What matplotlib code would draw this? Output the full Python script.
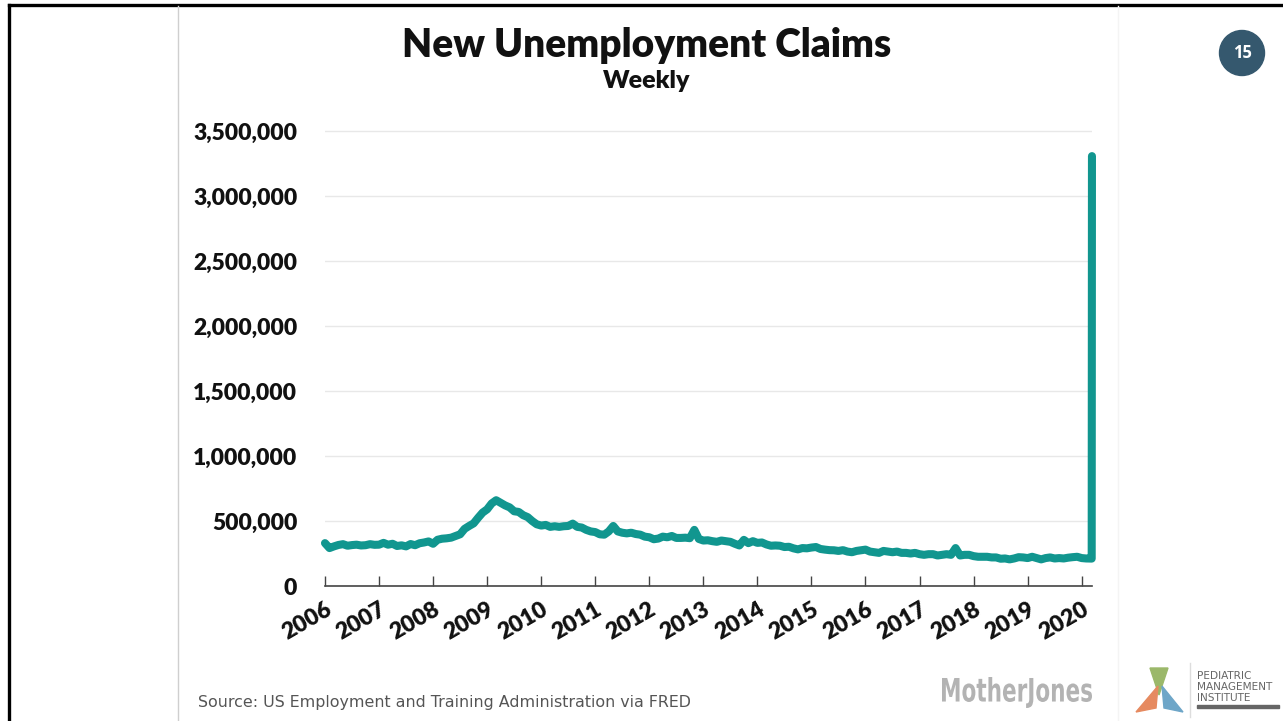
#importing required libraries
import matplotlib.pyplot as plt
import matplotlib.patches as mpatches
from matplotlib.lines import Line2D
from matplotlib.ticker import FuncFormatter
from matplotlib.textpath import TextPath
from matplotlib.font_manager import FontProperties
from matplotlib.transforms import Affine2D, IdentityTransform
import numpy as np

#monthly initial claims (thousands), Jan 2006 .. early Mar 2020
claims_2006 = [330, 292, 305, 316, 322, 310, 315, 318, 312, 314, 322, 317]
claims_2007 = [318, 332, 318, 325, 308, 313, 305, 323, 314, 329, 335, 343]
claims_2008 = [325, 356, 364, 367, 372, 385, 398, 440, 462, 482, 525, 565]
claims_2009 = [590, 635, 660, 640, 620, 605, 575, 570, 545, 530, 500, 475]
claims_2010 = [465, 470, 455, 460, 455, 460, 462, 480, 455, 450, 432, 420]
claims_2011 = [415, 398, 395, 420, 462, 420, 410, 405, 410, 400, 395, 380]
claims_2012 = [375, 360, 365, 380, 375, 385, 370, 370, 372, 368, 432, 362]
claims_2013 = [350, 352, 345, 340, 350, 345, 340, 325, 312, 355, 330, 345]
claims_2014 = [332, 335, 320, 310, 312, 310, 300, 302, 290, 282, 292, 290]
claims_2015 = [296, 300, 285, 280, 276, 275, 270, 276, 265, 260, 270, 275]
claims_2016 = [280, 265, 260, 255, 270, 265, 260, 265, 255, 255, 250, 255]
claims_2017 = [245, 240, 245, 245, 235, 240, 245, 240, 292, 235, 240, 240]
claims_2018 = [230, 225, 225, 225, 220, 220, 210, 212, 205, 212, 222, 220]
claims_2019 = [215, 225, 215, 205, 215, 220, 212, 215, 212, 218, 222, 225]
claims_2020 = [215, 212, 211]

#last two weekly readings before the chart ends (week of Mar 14 and Mar 21, 2020)
final_dates = [2020.185, 2020.19]
final_claims = [211, 3307]

year_ticks = list(range(2006, 2021))

monthly = (claims_2006 + claims_2007 + claims_2008 + claims_2009 + claims_2010 +
           claims_2011 + claims_2012 + claims_2013 + claims_2014 + claims_2015 +
           claims_2016 + claims_2017 + claims_2018 + claims_2019 + claims_2020)
dates = list(2006 + np.arange(len(monthly)) / 12.0) + final_dates
values = np.array(monthly + final_claims) * 1000

W, H = 1283, 721

#figure the size of the slide
fig = plt.figure(figsize=(W / 100, H / 100), dpi=100)
fig.patch.set_facecolor('white')

ax = fig.add_axes([0.2533, 0.1872, 0.5978, 0.6401])
ax.plot(dates, values, color='#11968f', linewidth=5.8, solid_joinstyle='round',
        solid_capstyle='round', clip_on=False, zorder=3)

ax.set_xlim(2006, 2020.19)
ax.set_ylim(0, 3.55e6)
ax.set_yticks(np.arange(0, 3500001, 500000))
ax.yaxis.set_major_formatter(FuncFormatter(lambda v, p: '{:,.0f}'.format(v)))
ax.set_xticks(year_ticks)
ax.set_xticklabels([str(y) for y in year_ticks], rotation=30, ha='right',
                   rotation_mode='anchor')

for lab in ax.get_yticklabels() + ax.get_xticklabels():
    lab.set_fontfamily('Lato')
    lab.set_fontweight('heavy')
    lab.set_fontsize(16.5)

ax.tick_params(axis='y', length=0, pad=20, colors='#111111')
ax.tick_params(axis='x', direction='in', length=7, width=1, color='#444444',
               pad=9, labelcolor='#111111')

#grid and spines
ax.grid(axis='y', color='#e8e8e8', linewidth=1)
ax.set_axisbelow(True)
for s in ['top', 'right', 'left']:
    ax.spines[s].set_visible(False)
ax.spines['bottom'].set_color('#444444')
ax.spines['bottom'].set_linewidth(1.2)

#titles
fig.text(647 / W, 1 - 45 / H, 'New Unemployment Claims', ha='center', va='center',
         fontsize=28, fontweight='heavy', family='Lato', color='#111111')
fig.text(647 / W, 1 - 81 / H, 'Weekly', ha='center', va='center',
         fontsize=18, fontweight='heavy', family='Lato', color='#111111')

#source line
fig.text(198 / W, 1 - 702 / H, 'Source: US Employment and Training Administration via FRED',
         ha='left', va='center', fontsize=11.4, family='DejaVu Sans', color='#555555')

#slide frame: black border, grey separators
fig.add_artist(Line2D([9 / W, 9 / W], [0, 1 - 5 / H], color='black', linewidth=2.4))
fig.add_artist(Line2D([9 / W, 1], [1 - 5 / H, 1 - 5 / H], color='black', linewidth=2.4))
fig.add_artist(Line2D([178 / W, 178 / W], [0, 1 - 6 / H], color='#cfcfcf', linewidth=1))
fig.add_artist(Line2D([1118 / W, 1118 / W], [0, 1 - 6 / H], color='#f4f4f4', linewidth=1))

#slide number badge
fig.add_artist(mpatches.Ellipse((1242 / W, 1 - 53 / H), 45 / W, 45 / H,
                                color='#35586e', transform=fig.transFigure))
fig.text(1242 / W, 1 - 53 / H, '15', ha='center', va='center', color='white',
         fontsize=12, fontweight='bold', family='Open Sans')

#Mother Jones logo: squeezed bold text path, placed in pixel coords
tp = TextPath((0, 0), 'MotherJones', size=40,
              prop=FontProperties(family='DejaVu Sans', weight='bold'))
bb = tp.get_extents()
sx = 150 / bb.width
sy = 31 / bb.height
mj = Affine2D().translate(-bb.x0, -bb.y0).scale(sx, sy).translate(942, H - 708)
fig.add_artist(mpatches.PathPatch(tp, transform=mj + IdentityTransform(),
                                  color='#b3b3b3', lw=0))

#Pediatric Management Institute logo
fig.add_artist(Line2D([1190 / W, 1190 / W], [1 - 717 / H, 1 - 663 / H],
                      color='#dddddd', linewidth=1))
fig.add_artist(mpatches.Polygon([[1150 / W, 1 - 668 / H], [1168 / W, 1 - 668 / H],
                                 [1159 / W, 1 - 695 / H]], color='#9bb86a',
                                transform=fig.transFigure))
fig.add_artist(mpatches.Polygon([[1136 / W, 1 - 712 / H], [1158 / W, 1 - 686 / H],
                                 [1156 / W, 1 - 708 / H]], color='#e68a60',
                                transform=fig.transFigure))
fig.add_artist(mpatches.Polygon([[1183 / W, 1 - 712 / H], [1162 / W, 1 - 686 / H],
                                 [1164 / W, 1 - 708 / H]], color='#6ea6c8',
                                transform=fig.transFigure))
for i, word in enumerate(['PEDIATRIC', 'MANAGEMENT', 'INSTITUTE']):
    fig.text(1197 / W, 1 - (676 + 11 * i) / H, word, ha='left', va='center',
             fontsize=7.6, family='DejaVu Sans', color='#666666')
fig.add_artist(mpatches.Rectangle((1197 / W, 1 - 708 / H), 82 / W, 3 / H,
                                  color='#666666', transform=fig.transFigure))

#saving the generated plot
plt.savefig('out.png', dpi=100)
